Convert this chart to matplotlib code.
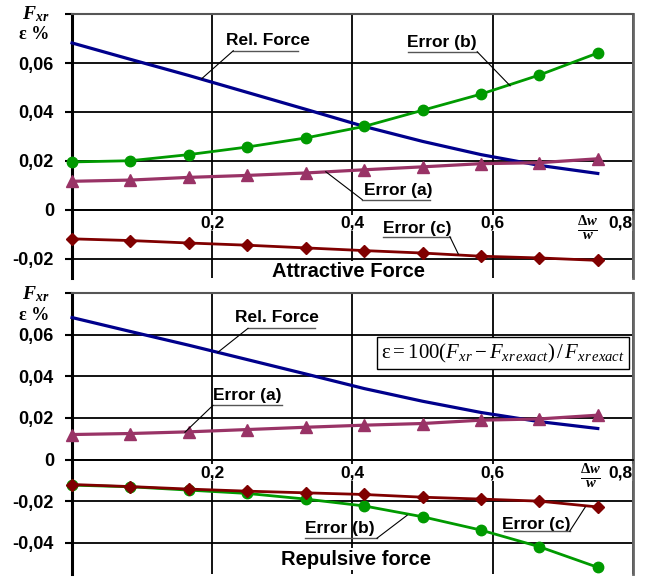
import numpy as np
import matplotlib
matplotlib.use("Agg")
import matplotlib.pyplot as plt
import matplotlib.transforms as mtransforms
from matplotlib.ticker import FuncFormatter

plt.rcParams['font.family'] = ['Liberation Sans', 'DejaVu Sans']
plt.rcParams['mathtext.fontset'] = 'custom'
plt.rcParams['mathtext.rm'] = 'Liberation Serif'
plt.rcParams['mathtext.it'] = 'Liberation Serif:italic'
plt.rcParams['mathtext.bf'] = 'Liberation Serif:italic:bold'
plt.rcParams['mathtext.sf'] = 'Liberation Serif:bold'

# --- DATOS ---
dw_w = np.arange(10) / 12.0        # Δw/w
rel_force = [0.0682, 0.0615, 0.0549, 0.0480, 0.0411, 0.0341, 0.0280, 0.0226, 0.0182, 0.0149]

att_err_a = [0.0117, 0.0122, 0.0133, 0.0141, 0.0151, 0.0164, 0.0176, 0.0189, 0.0193, 0.0209]
att_err_b = [0.0196, 0.0201, 0.0226, 0.0257, 0.0294, 0.0341, 0.0407, 0.0473, 0.0551, 0.0641]
att_err_c = [-0.0118, -0.0125, -0.0135, -0.0144, -0.0155, -0.0166, -0.0176, -0.0189, -0.0196, -0.0206]

rep_err_a = [0.0120, 0.0125, 0.0133, 0.0144, 0.0155, 0.0165, 0.0173, 0.0189, 0.0195, 0.0213]
rep_err_b = [-0.0123, -0.0131, -0.0147, -0.0163, -0.0190, -0.0223, -0.0275, -0.0339, -0.0419, -0.0518]
rep_err_c = [-0.0120, -0.0130, -0.0142, -0.0152, -0.0160, -0.0168, -0.0181, -0.0190, -0.0200, -0.0228]

x_ticks = [0.2, 0.4, 0.6, 0.8]
x_ticklabels = ['0,2', '0,4', '0,6', '0,8']

C_BLUE = '#00008c'
C_GREEN = '#009a00'
C_PURPLE = '#993366'
C_RED = '#800000'


def fmt_y(v, pos):
    if v > 0.079:
        return ''
    if abs(v) < 1e-9:
        return '0'
    return f'{v:.2f}'.replace('.', ',')


def etiqueta(ax, texto, xc, yc, x0, x1, yu, xe, ye, lado='left'):
    """Texto subrayado con línea guía hasta la curva"""
    ax.text(xc, yc, texto, ha='center', va='center', fontsize=12.5, fontweight='bold', zorder=6)
    ax.plot([x0, x1], [yu, yu], color='#555555', lw=1.0, zorder=6, clip_on=False)
    xs = x0 if lado == 'left' else x1
    ax.plot([xs, xe], [yu, ye], color='black', lw=0.8, zorder=6, clip_on=False)


def preparar_ejes(ax, ylim, yticks):
    ax.set_xlim(0, 0.8)
    ax.set_ylim(*ylim)
    ax.set_xticks(x_ticks)
    ax.set_xticklabels(x_ticklabels)
    ax.set_yticks(yticks)
    ax.yaxis.set_major_formatter(FuncFormatter(fmt_y))
    ax.set_axisbelow(True)
    ax.grid(True, color='black', lw=1.3)
    ax.spines['bottom'].set_position(('data', 0))
    ax.spines['bottom'].set_linewidth(1.3)
    ax.spines['left'].set_linewidth(2.2)
    ax.spines['top'].set_color('#555555')
    ax.spines['top'].set_linewidth(1.5)
    ax.spines['right'].set_color('#666666')
    ax.spines['right'].set_linewidth(2.0)
    ax.tick_params(axis='x', length=0, pad=4, labelsize=12.5)
    ax.tick_params(axis='y', direction='out', length=5, width=1.5, pad=8, labelsize=13)
    for lab in ax.get_xticklabels() + ax.get_yticklabels():
        lab.set_fontweight('bold')
    for lab in ax.get_xticklabels():
        lab.set_bbox(dict(fc='white', ec='none', pad=0.5))
        lab.set_zorder(7)
    ax.get_xticklabels()[-1].set_horizontalalignment('right')
    ax.set_facecolor('white')
    trans = mtransforms.blended_transform_factory(ax.transAxes, ax.transData)
    return trans


def curvas(ax, a, b, c):
    ax.plot(dw_w, rel_force, color=C_BLUE, lw=2.3, zorder=3, clip_on=False)
    ax.plot(dw_w, b, color=C_GREEN, lw=2.0, marker='o', ms=7.5, zorder=4, clip_on=False)
    ax.plot(dw_w, a, color=C_PURPLE, lw=2.3, marker='^', ms=8.5, zorder=4, clip_on=False)
    ax.plot(dw_w, c, color=C_RED, lw=2.0, marker='D', ms=6, zorder=5, clip_on=False)


fig = plt.figure(figsize=(6.59, 5.78), dpi=100)
ax1 = fig.add_axes([0.1093, 0.519, 0.851, 0.4567])
ax2 = fig.add_axes([0.1093, 0.0069, 0.851, 0.4862])
caja_blanca = dict(fc='white', ec='none', pad=1.0)

# ---------- Panel superior: fuerza atractiva ----------
tr1 = preparar_ejes(ax1, (-0.0278, 0.08), [-0.02, 0, 0.02, 0.04, 0.06, 0.08])
curvas(ax1, att_err_a, att_err_b, att_err_c)
etiqueta(ax1, 'Rel. Force', 0.280, 0.0694, 0.230, 0.322, 0.0650, 0.185, 0.0536)
etiqueta(ax1, 'Error (b)', 0.528, 0.0682, 0.479, 0.578, 0.0646, 0.625, 0.0507, lado='right')
etiqueta(ax1, 'Error (a)', 0.466, 0.0079, 0.414, 0.511, 0.0042, 0.362, 0.0156)
etiqueta(ax1, 'Error (c)', 0.492, -0.0076, 0.444, 0.539, -0.0109, 0.551, -0.0180, lado='right')
ax1.text(0.394, -0.0252, 'Attractive Force', ha='center', va='center', fontsize=14.5,
         fontweight='bold', zorder=6, bbox=caja_blanca)
ax1.text(0.736, -0.0075, r'$\frac{\mathsf{\Delta}\mathbf{w}}{\mathbf{w}}$', ha='center',
         va='center', fontsize=15, zorder=6)
ax1.text(-0.04, 0.0800, r'$\mathbf{F}_{\mathbf{xr}}$', transform=tr1, ha='right', va='center', fontsize=14)
ax1.text(-0.04, 0.0715, 'ε %', transform=tr1, ha='right', va='center', fontsize=13,
         family='Liberation Serif', fontweight='bold')

# ---------- Panel inferior: fuerza repulsiva ----------
tr2 = preparar_ejes(ax2, (-0.055, 0.08), [-0.04, -0.02, 0, 0.02, 0.04, 0.06, 0.08])
curvas(ax2, rep_err_a, rep_err_b, rep_err_c)
etiqueta(ax2, 'Rel. Force', 0.292, 0.0683, 0.251, 0.347, 0.0630, 0.208, 0.0515)
etiqueta(ax2, 'Error (a)', 0.250, 0.0309, 0.201, 0.300, 0.0260, 0.161, 0.0131)
etiqueta(ax2, 'Error (b)', 0.382, -0.0330, 0.332, 0.435, -0.0378, 0.478, -0.0268, lado='right')
etiqueta(ax2, 'Error (c)', 0.662, -0.0311, 0.616, 0.710, -0.0344, 0.732, -0.0229, lado='right')
ax2.text(0.405, -0.0479, 'Repulsive force', ha='center', va='center', fontsize=14.5,
         fontweight='bold', zorder=6, bbox=caja_blanca)
ax2.text(0.739, -0.0080, r'$\frac{\mathsf{\Delta}\mathbf{w}}{\mathbf{w}}$', ha='center',
         va='center', fontsize=15, zorder=6)
ax2.text(0.615, 0.0511, r'$\mathrm{\varepsilon} = 100(F_{xr} - F_{xr\,exact})\,/\,F_{xr\,exact}$',
         ha='center', va='center', fontsize=15, zorder=6,
         bbox=dict(boxstyle='square,pad=0.2', fc='white', ec='black', lw=1.0))
ax2.text(-0.04, 0.0795, r'$\mathbf{F}_{\mathbf{xr}}$', transform=tr2, ha='right', va='center', fontsize=14)
ax2.text(-0.04, 0.0693, 'ε %', transform=tr2, ha='right', va='center', fontsize=13,
         family='Liberation Serif', fontweight='bold')

fig.savefig('out.png', dpi=100, facecolor='white')
